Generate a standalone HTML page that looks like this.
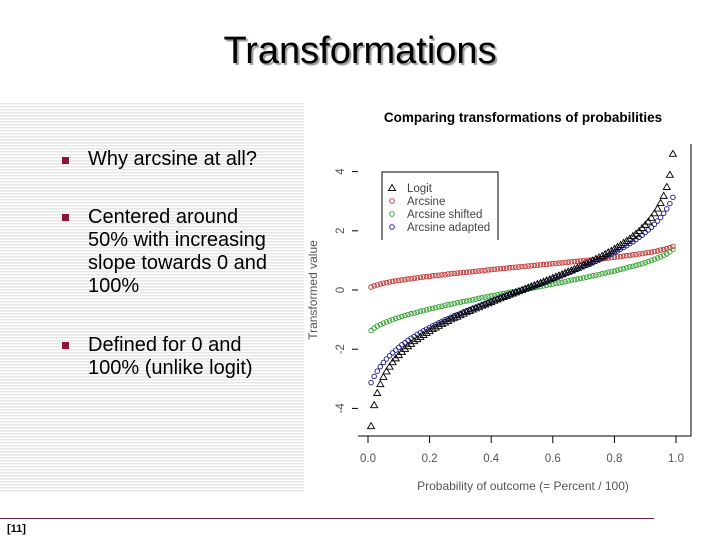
<!DOCTYPE html>
<html><head><meta charset="utf-8"><style>
body{margin:0;width:720px;height:540px;background:#fff;position:relative;overflow:hidden;font-family:"Liberation Sans",sans-serif}
#stripes{position:absolute;left:0;top:103px;width:304px;height:389px;background:repeating-linear-gradient(to bottom,#e6e6e6 0,#e6e6e6 1.5px,#fff 1.5px,#fff 3px)}
#title{position:absolute;left:0;width:720px;top:30px;text-align:center;font-size:38px;color:#000;text-shadow:2px 2px 1px #999}
.b{position:absolute;left:62px;width:7px;height:7px;background:#8e1538}
.t{position:absolute;left:88px;font-size:20px;line-height:23px;color:#000}
#rule{position:absolute;left:0;top:518px;width:654px;height:1px;background:#6b2050}
#ref{position:absolute;left:7px;top:523px;font-size:11px;font-weight:bold}
svg{position:absolute;left:0;top:0}
</style></head><body>
<div id="stripes"></div>
<div id="title">Transformations</div>
<div class="b" style="top:157px"></div>
<div class="t" style="top:148px">Why arcsine at all?</div>
<div class="b" style="top:214px"></div>
<div class="t" style="top:206px">Centered around<br>50% with increasing<br>slope towards 0 and<br>100%</div>
<div class="b" style="top:342px"></div>
<div class="t" style="top:334px">Defined for 0 and<br>100% (unlike logit)</div>
<div id="rule"></div>
<div id="ref">[11]</div>
<svg id="chart" width="720" height="540"></svg>
<script>
const probs=[0.01,0.02,0.03,0.04,0.05,0.06,0.07,0.08,0.09,0.10,0.11,0.12,0.13,0.14,0.15,0.16,0.17,0.18,0.19,0.20,0.21,0.22,0.23,0.24,0.25,0.26,0.27,0.28,0.29,0.30,0.31,0.32,0.33,0.34,0.35,0.36,0.37,0.38,0.39,0.40,0.41,0.42,0.43,0.44,0.45,0.46,0.47,0.48,0.49,0.50,0.51,0.52,0.53,0.54,0.55,0.56,0.57,0.58,0.59,0.60,0.61,0.62,0.63,0.64,0.65,0.66,0.67,0.68,0.69,0.70,0.71,0.72,0.73,0.74,0.75,0.76,0.77,0.78,0.79,0.80,0.81,0.82,0.83,0.84,0.85,0.86,0.87,0.88,0.89,0.90,0.91,0.92,0.93,0.94,0.95,0.96,0.97,0.98,0.99];
const logitVals=[-4.60,-3.89,-3.48,-3.18,-2.94,-2.75,-2.59,-2.44,-2.31,-2.20,-2.09,-1.99,-1.90,-1.82,-1.73,-1.66,-1.59,-1.52,-1.45,-1.39,-1.32,-1.27,-1.21,-1.15,-1.10,-1.05,-0.99,-0.94,-0.90,-0.85,-0.80,-0.75,-0.71,-0.66,-0.62,-0.58,-0.53,-0.49,-0.45,-0.41,-0.36,-0.32,-0.28,-0.24,-0.20,-0.16,-0.12,-0.08,-0.04,0,0.04,0.08,0.12,0.16,0.20,0.24,0.28,0.32,0.36,0.41,0.45,0.49,0.53,0.58,0.62,0.66,0.71,0.75,0.80,0.85,0.90,0.94,0.99,1.05,1.10,1.15,1.21,1.27,1.32,1.39,1.45,1.52,1.59,1.66,1.73,1.82,1.90,1.99,2.09,2.20,2.31,2.44,2.59,2.75,2.94,3.18,3.48,3.89,4.60];
const arcsineVals=[0.10,0.14,0.17,0.20,0.23,0.25,0.27,0.29,0.31,0.32,0.34,0.35,0.37,0.38,0.40,0.41,0.43,0.44,0.45,0.46,0.48,0.49,0.50,0.51,0.52,0.54,0.55,0.56,0.57,0.58,0.59,0.60,0.61,0.62,0.63,0.64,0.65,0.66,0.68,0.69,0.70,0.71,0.72,0.73,0.74,0.75,0.76,0.77,0.78,0.79,0.80,0.81,0.82,0.83,0.84,0.85,0.86,0.87,0.88,0.89,0.90,0.91,0.92,0.93,0.94,0.95,0.96,0.97,0.98,0.99,1.00,1.01,1.03,1.04,1.05,1.06,1.07,1.08,1.10,1.11,1.12,1.13,1.15,1.16,1.17,1.19,1.20,1.22,1.23,1.25,1.27,1.28,1.30,1.32,1.35,1.37,1.40,1.43,1.47];
const shiftedVals=[-1.37,-1.29,-1.22,-1.17,-1.12,-1.08,-1.04,-1.00,-0.96,-0.93,-0.89,-0.86,-0.83,-0.80,-0.78,-0.75,-0.72,-0.70,-0.67,-0.64,-0.62,-0.60,-0.57,-0.55,-0.52,-0.50,-0.48,-0.46,-0.43,-0.41,-0.39,-0.37,-0.35,-0.33,-0.31,-0.28,-0.26,-0.24,-0.22,-0.20,-0.18,-0.16,-0.14,-0.12,-0.10,-0.08,-0.06,-0.04,-0.02,0,0.02,0.04,0.06,0.08,0.10,0.12,0.14,0.16,0.18,0.20,0.22,0.24,0.26,0.28,0.31,0.33,0.35,0.37,0.39,0.41,0.43,0.46,0.48,0.50,0.52,0.55,0.57,0.60,0.62,0.64,0.67,0.70,0.72,0.75,0.78,0.80,0.83,0.86,0.89,0.93,0.96,1.00,1.04,1.08,1.12,1.17,1.22,1.29,1.37];
const adaptedVals=[-3.13,-2.92,-2.74,-2.59,-2.45,-2.33,-2.22,-2.12,-2.03,-1.94,-1.85,-1.78,-1.70,-1.63,-1.57,-1.50,-1.44,-1.38,-1.32,-1.27,-1.21,-1.16,-1.11,-1.06,-1.01,-0.97,-0.92,-0.87,-0.83,-0.79,-0.74,-0.70,-0.66,-0.62,-0.58,-0.54,-0.50,-0.46,-0.42,-0.38,-0.34,-0.30,-0.26,-0.22,-0.19,-0.15,-0.11,-0.08,-0.04,0,0.04,0.08,0.11,0.15,0.19,0.22,0.26,0.30,0.34,0.38,0.42,0.46,0.50,0.54,0.58,0.62,0.66,0.70,0.74,0.79,0.83,0.87,0.92,0.97,1.01,1.06,1.11,1.16,1.21,1.27,1.32,1.38,1.44,1.50,1.57,1.63,1.70,1.78,1.85,1.94,2.03,2.12,2.22,2.33,2.45,2.59,2.74,2.92,3.13];
const xTicks=[0,0.2,0.4,0.6,0.8,1.0];
const xTickLabels=["0.0","0.2","0.4","0.6","0.8","1.0"];
const yTicks=[-4,-2,0,2,4];
const yTickLabels=["-4","-2","0","2","4"];
const legendLabels=["Logit","Arcsine","Arcsine shifted","Arcsine adapted"];

const NS="http://www.w3.org/2000/svg";
const svg=document.getElementById('chart');
const X=p=>368+308*p;
const Y=v=>290-29.6*v;
function mk(tag,attrs,parent){const e=document.createElementNS(NS,tag);for(const k in attrs)e.setAttribute(k,attrs[k]);(parent||svg).appendChild(e);return e;}
function txt(s,attrs){const e=mk('text',attrs);e.textContent=s;return e;}

const t=txt("Comparing transformations of probabilities",{x:523,y:122,'text-anchor':'middle','font-size':13.5,'font-weight':'bold','font-family':'Liberation Sans, sans-serif'});


const xl=txt("Probability of outcome (= Percent / 100)",{x:523,y:490,'text-anchor':'middle','font-size':12,fill:'#555','font-family':'Liberation Sans, sans-serif'});


const yl=txt("Transformed value",{x:0,y:0,'text-anchor':'middle','font-size':12,fill:'#555',transform:'translate(317,290) rotate(-90)','font-family':'Liberation Sans, sans-serif'});



const ax=mk('path',{d:`M358 436H691V144`,stroke:'#000',fill:'none','stroke-width':1});


xTicks.forEach((v,i)=>{
  const tk=mk('line',{x1:X(v),x2:X(v),y1:436,y2:443,stroke:'#000'});
  
  
  const l=txt(xTickLabels[i],{x:X(v),y:462,'text-anchor':'middle','font-size':11.5,fill:'#555','font-family':'Liberation Sans, sans-serif'});
  
  
});
yTicks.forEach((v,i)=>{
  const tk=mk('line',{x1:352,x2:358,y1:Y(v),y2:Y(v),stroke:'#000'});
  
  
  const l=txt(yTickLabels[i],{x:0,y:0,'text-anchor':'middle','font-size':11.5,fill:'#555',transform:`translate(344,${Y(v)}) rotate(-90)`,'font-family':'Liberation Sans, sans-serif'});
  
  
});

function tri(cx,cy,col){return mk('path',{d:`M${cx} ${cy-3.5}L${cx+3.5} ${cy+2.5}H${cx-3.5}Z`,fill:'none',stroke:col,'stroke-width':0.9});}
function circ(cx,cy,col){return mk('circle',{cx:cx,cy:cy,r:2.3,fill:'none',stroke:col,'stroke-width':0.9});}
const series=[[arcsineVals,'#c03030',circ,'arcsine'],[shiftedVals,'#30a030',circ,'arcsine-shifted'],[adaptedVals,'#1a1a80',circ,'arcsine-adapted'],[logitVals,'#000',tri,'logit']];
series.forEach(([vals,col,fn,nm])=>{
  vals.forEach((v,i)=>{
    const m=fn(X(probs[i]),Y(v),col);
    
    
  });
});

const lb=mk('path',{d:'M382 240V172H498V240',fill:'#fff',stroke:'#000','stroke-width':1});


const lcols=['#000','#c03030','#30a030','#1a1a80'];
legendLabels.forEach((s,i)=>{
  const y=188+13*i;
  const m=i===0?tri(392,y,lcols[i]):circ(392,y,lcols[i]);
  
  
  const l=txt(s,{x:407,y:y+4,'font-size':11.5,fill:'#444','font-family':'Liberation Sans, sans-serif'});
  
  
});
</script>
</body></html>
